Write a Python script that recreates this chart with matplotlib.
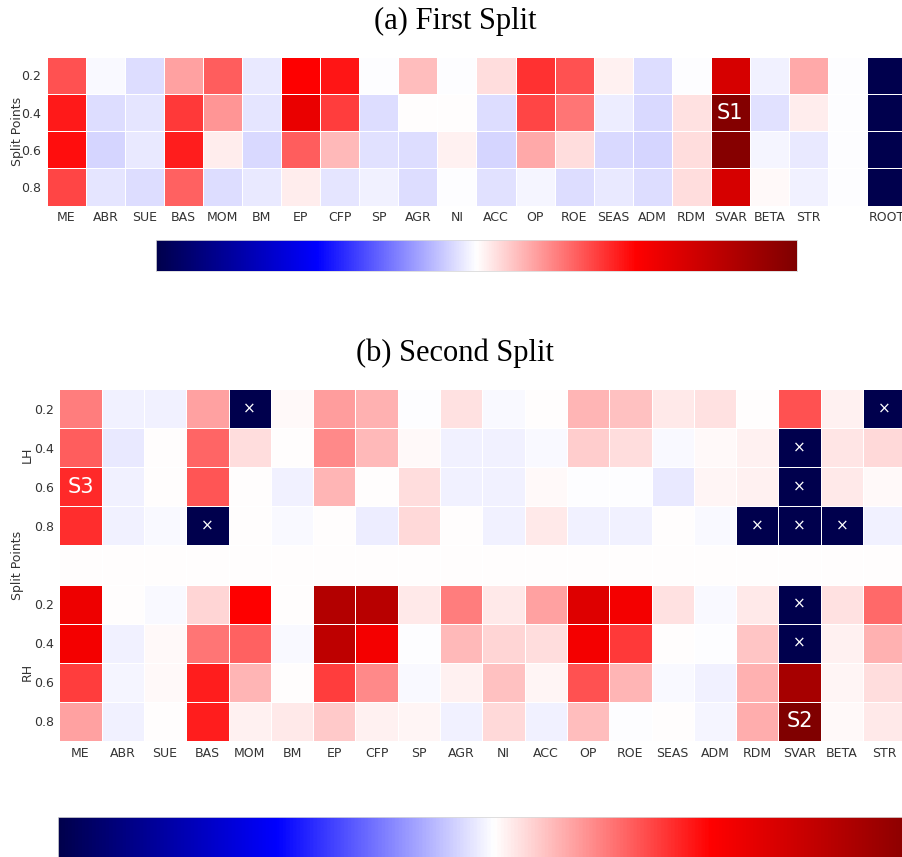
import numpy as np
import matplotlib
matplotlib.use("Agg")
import matplotlib.pyplot as plt

features = ["ME", "ABR", "SUE", "BAS", "MOM", "BM", "EP", "CFP", "SP", "AGR",
            "NI", "ACC", "OP", "ROE", "SEAS", "ADM", "RDM", "SVAR", "BETA", "STR"]
split_points = ["0.2", "0.4", "0.6", "0.8"]
nan = np.nan

# first split: one row per split point, plus the root node
first_02 = [0.34, -0.01, -0.07, 0.18, 0.32, -0.04, 0.50, 0.46, -0.005, 0.13,
            -0.005, 0.07, 0.40, 0.34, 0.03, -0.065, -0.005, 0.66, -0.03, 0.17]
first_04 = [0.45, -0.07, -0.05, 0.39, 0.21, -0.05, 0.58, 0.38, -0.065, 0.005,
            0.005, -0.07, 0.36, 0.27, -0.035, -0.075, 0.06, 0.98, -0.06, 0.035]
first_06 = [0.47, -0.085, -0.045, 0.44, 0.035, -0.075, 0.32, 0.135, -0.055, -0.07,
            0.03, -0.08, 0.165, 0.07, -0.075, -0.08, 0.07, 0.97, -0.02, -0.045]
first_08 = [0.36, -0.05, -0.07, 0.31, -0.07, -0.04, 0.035, -0.05, -0.025, -0.07,
            -0.005, -0.055, -0.02, -0.07, -0.045, -0.07, 0.065, 0.66, 0.015, -0.03]
first_gap = [-0.005, -0.005, -0.005, -0.005]
first_root = [-1.0, -1.0, -1.0, -1.0]

# second split, left child (nan = split not available)
lh_02 = [0.25, -0.025, -0.025, 0.18, nan, 0.015, 0.19, 0.15, -0.005, 0.06,
         -0.01, 0.005, 0.145, 0.12, 0.045, 0.06, 0.005, 0.34, 0.03, nan]
lh_04 = [0.32, -0.04, 0.0, 0.30, 0.07, 0.0, 0.23, 0.14, 0.01, -0.025,
         -0.03, -0.01, 0.10, 0.07, -0.015, 0.01, 0.03, nan, 0.05, 0.075]
lh_06 = [0.42, -0.03, 0.0, 0.33, 0.0, -0.025, 0.145, 0.0, 0.07, -0.03,
         -0.03, 0.015, -0.005, -0.005, -0.04, 0.02, 0.03, nan, 0.04, 0.015]
lh_08 = [0.41, -0.03, -0.01, nan, 0.0, -0.01, 0.0, -0.035, 0.075, 0.0,
         -0.03, 0.04, -0.03, -0.03, 0.005, -0.015, nan, nan, nan, -0.025]
gap_row = [0.005] * 20
# second split, right child
rh_02 = [0.57, 0.0, -0.015, 0.08, 0.50, 0.0, 0.79, 0.78, 0.045, 0.25,
         0.045, 0.18, 0.63, 0.54, 0.06, -0.015, 0.045, nan, 0.06, 0.29]
rh_04 = [0.54, -0.025, 0.015, 0.27, 0.31, -0.015, 0.75, 0.54, -0.005, 0.14,
         0.08, 0.07, 0.54, 0.39, 0.0, -0.005, 0.11, nan, 0.03, 0.155]
rh_06 = [0.375, -0.02, 0.015, 0.44, 0.145, 0.0, 0.38, 0.23, -0.015, 0.03,
         0.12, 0.02, 0.34, 0.145, -0.015, -0.025, 0.155, 0.85, 0.02, 0.07]
rh_08 = [0.18, -0.03, 0.0, 0.44, 0.03, 0.045, 0.105, 0.03, 0.02, -0.025,
         0.075, -0.03, 0.125, -0.005, 0.0, -0.02, 0.16, 1.0, 0.015, 0.045]

# labelled cells: (row, column, text)
first_marks = [(1, "SVAR", "S1")]
second_marks = [(8, "SVAR", "S2"), (2, "ME", "S3")]

W, H = 903, 857
cmap = plt.get_cmap("seismic").copy()
cmap.set_bad(cmap(0.0))
tick_color = "0.2"


def px(x0, y0, x1, y1):
    # pixel box (top-left origin) -> figure fraction rect
    return [x0 / W, 1 - y1 / H, (x1 - x0) / W, (y1 - y0) / H]


def heatmap(ax, data, xlabels, ylabels):
    m = np.ma.masked_invalid(np.array(data, dtype=float))
    ax.pcolormesh(m, cmap=cmap, vmin=-1, vmax=1, edgecolors="white", linewidth=0.6)
    ax.set_xlim(0, m.shape[1])
    ax.set_ylim(m.shape[0], 0)
    ax.set_xticks(np.arange(m.shape[1]) + 0.5)
    ax.set_xticklabels(xlabels)
    ax.set_yticks(np.arange(m.shape[0]) + 0.5)
    ax.set_yticklabels(ylabels)
    ax.tick_params(length=0, labelsize=9, colors=tick_color, pad=4)
    for s in ax.spines.values():
        s.set_visible(False)
    # cross on missing cells
    for r, c in zip(*np.where(np.isnan(np.array(data, dtype=float)))):
        ax.text(c + 0.5, r + 0.5, "\u00d7", color="white", fontsize=11,
                ha="center", va="center")
    return m


def colorbar(rect):
    cax = fig.add_axes(rect)
    grad = np.linspace(-1, 1, 512).reshape(1, -1)
    cax.imshow(grad, aspect="auto", cmap=cmap, vmin=-1, vmax=1,
               extent=(0, 1, 0, 1))
    cax.set_xticks([])
    cax.set_yticks([])
    for s in cax.spines.values():
        s.set_edgecolor("0.85")
        s.set_linewidth(0.6)


fig = plt.figure(figsize=(W / 100, H / 100), dpi=100)
title_font = dict(family="Liberation Serif", fontsize=22, ha="center", va="center")

# (a) first split
top = np.column_stack([np.array([first_02, first_04, first_06, first_08]),
                       first_gap, first_root])
ax1 = fig.add_axes(px(47, 56.7, 906, 205.7))
heatmap(ax1, top, features + ["", "ROOT"], split_points)
for r, name, txt in first_marks:
    ax1.text(features.index(name) + 0.5, r + 0.5, txt, color="white",
             fontsize=15, ha="center", va="center")
fig.text(455 / W, 1 - 21 / H, "(a) First Split", **title_font)
fig.text(17 / W, 1 - 131 / H, "Split Points", rotation=90, fontsize=9,
         color=tick_color, ha="center", va="center")
colorbar(px(156, 240, 797, 271))

# (b) second split
bottom = [lh_02, lh_04, lh_06, lh_08, gap_row, rh_02, rh_04, rh_06, rh_08]
ax2 = fig.add_axes(px(59.3, 389, 905.3, 741))
heatmap(ax2, bottom, features, split_points + [""] + split_points)
for r, name, txt in second_marks:
    ax2.text(features.index(name) + 0.5, r + 0.5, txt, color="white",
             fontsize=15, ha="center", va="center")
fig.text(455 / W, 1 - 353 / H, "(b) Second Split", **title_font)
fig.text(17 / W, 1 - 565 / H, "Split Points", rotation=90, fontsize=9,
         color=tick_color, ha="center", va="center")
fig.text(27 / W, 1 - 455 / H, "LH", rotation=90, fontsize=9,
         color=tick_color, ha="center", va="center")
fig.text(27 / W, 1 - 672 / H, "RH", rotation=90, fontsize=9,
         color=tick_color, ha="center", va="center")
colorbar(px(58, 817, 930, 880))

fig.savefig("out.png", dpi=100)
